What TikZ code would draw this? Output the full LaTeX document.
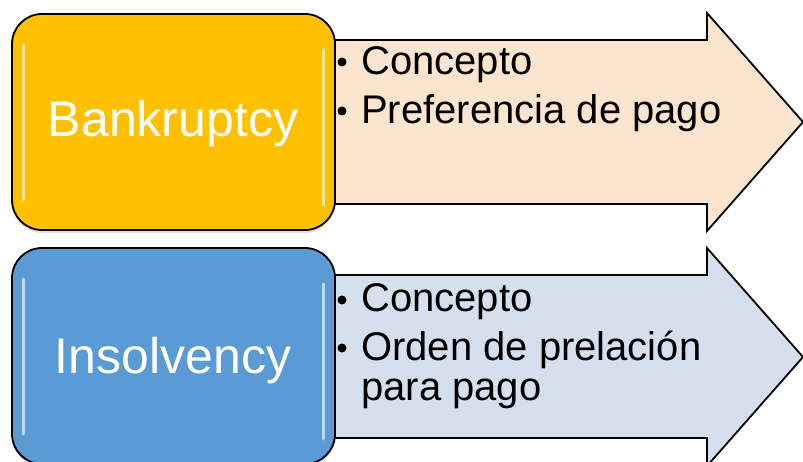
\documentclass[tikz,border=0pt]{standalone}
\usepackage{fontspec}
\setmainfont{Liberation Sans}
\usetikzlibrary{shadows}
\definecolor{goldbox}{HTML}{FFC000}
\definecolor{peach}{HTML}{FBE5CE}
\definecolor{bluebox}{HTML}{5B9BD5}
\definecolor{lightblue}{HTML}{D6DFED}
\tikzset{
  catbox/.style={draw=black, line width=1.8pt, rounded corners=30pt,
    minimum width=323pt, minimum height=216pt, inner sep=0pt,
    drop shadow={opacity=0.25, shadow xshift=0pt, shadow yshift=-3pt}},
  boxlabel/.style={anchor=base, text=white, font=\fontsize{50}{60}\selectfont, inner sep=0pt},
  bigarrow/.style={draw=black, line width=1.8pt, line join=miter},
  item/.style={anchor=base west, inner sep=0pt, font=\fontsize{40}{48}\selectfont, text=black},
  bul/.style={circle, fill=black, inner sep=0pt, minimum size=9pt},
  gloss/.style={white, line width=3pt, opacity=0.6, line cap=round}
}
\begin{document}
\begin{tikzpicture}[x=1pt, y=-1pt]
\useasboundingbox (0,0) rectangle (803,462);
\clip (0,0) rectangle (803,462);
% top arrow
\draw[bigarrow, fill=peach] (300,40) -- (707,40) -- (707,13) -- (803,122)
  -- (707,231) -- (707,204) -- (300,204) -- cycle;
% bottom arrow
\draw[bigarrow, fill=lightblue] (300,275) -- (707,275) -- (707,248) -- (803,357)
  -- (707,466) -- (707,438) -- (300,438) -- cycle;
% boxes
\node[catbox, fill=goldbox] (bank) at (173.5,122) {};
\node[boxlabel] (banktxt) at (173,137) {Bankruptcy};
\node[catbox, fill=bluebox] (ins) at (173.5,356) {};
\node[boxlabel] (instxt) at (173,373) {Insolvency};
% gloss highlights
\draw[gloss] (23,45) -- (23,200);
\draw[gloss] (323,50) -- (323,205);
\draw[gloss] (23,279) -- (23,434);
\draw[gloss] (323,284) -- (323,439);
% top bullets
\node[bul] (b1) at (342,62) {};
\node[item] (t1) at (361,75) {Concepto};
\node[bul] (b2) at (342,111) {};
\node[item] (t2) at (361,124) {Preferencia de pago};
% bottom bullets
\node[bul] (b3) at (342,300) {};
\node[item] (t3) at (361,312) {Concepto};
\node[bul] (b4) at (342,348) {};
\node[item] (t4) at (361,360) {Orden de prelación};
\node[item] (t5) at (361,400) {para pago};
\end{tikzpicture}
\end{document}
